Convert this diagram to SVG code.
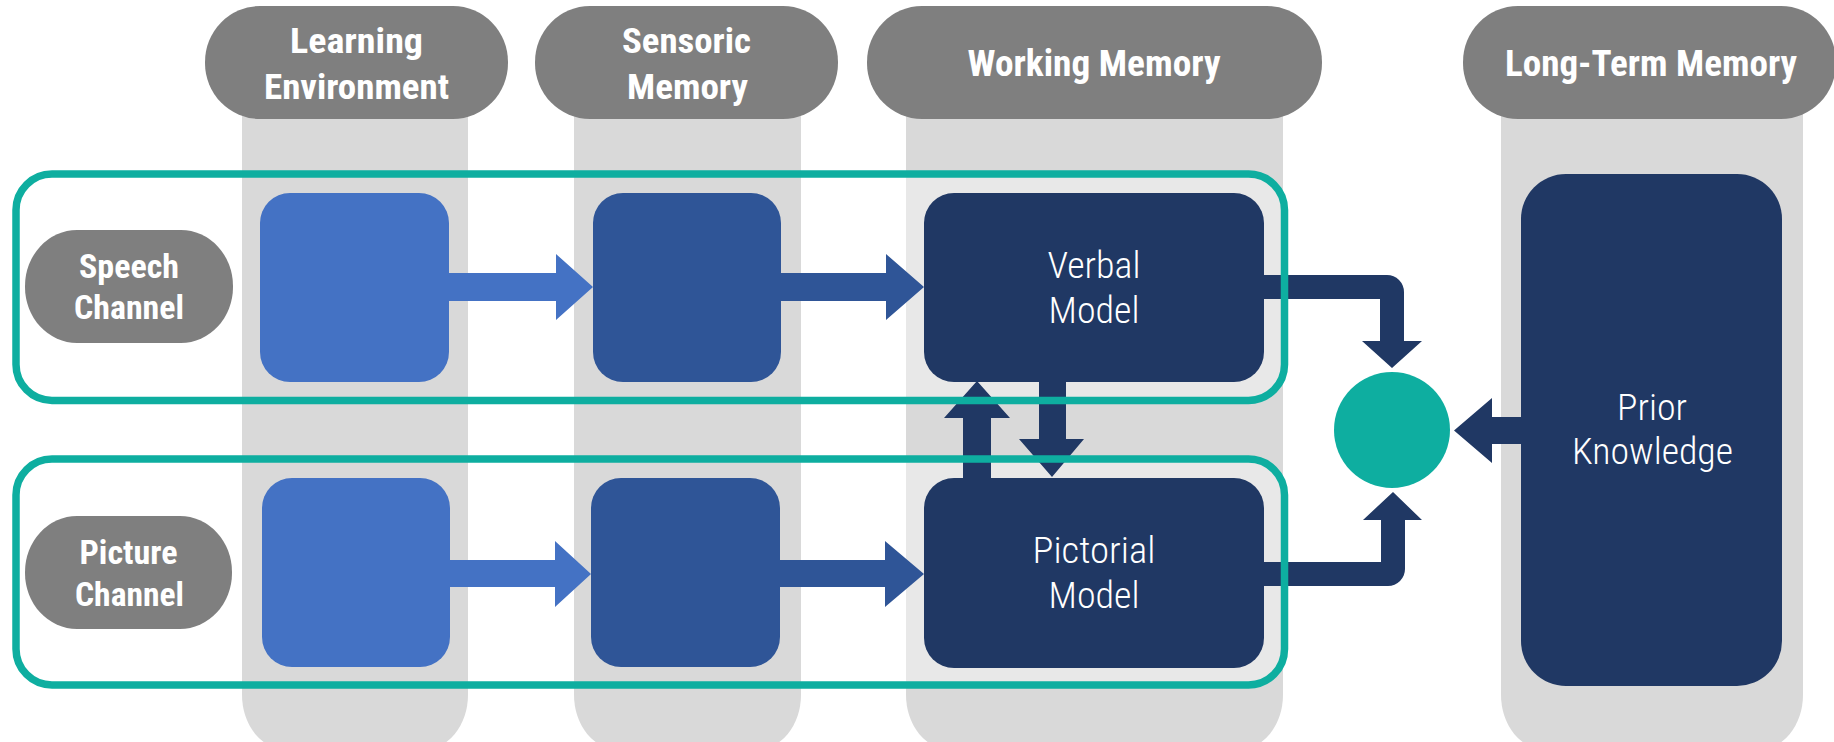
<svg xmlns="http://www.w3.org/2000/svg" width="1834" height="742" viewBox="0 0 1834 742">
<style>
.col{fill:#d9d9d9}
.hdr{fill:#7f7f7f}
.b1{fill:#4472c4}
.b2{fill:#2f5597}
.b3{fill:#203864}
.teal{fill:none;stroke:#0eaea0;stroke-width:7.5}
.tb{font-family:"Roboto Condensed",Roboto,"Liberation Sans",sans-serif;font-weight:700;fill:#fff;text-anchor:middle}
.tr{font-family:"Roboto Condensed",Roboto,"Liberation Sans",sans-serif;font-weight:300;fill:#fff;text-anchor:middle}
</style>
<defs>
<clipPath id="wmclip"><rect x="906" y="0" width="377" height="742"/></clipPath>
</defs>
<rect width="1834" height="742" fill="#fff"/>
<g id="columns">
<rect class="col" x="242" y="60" width="226" height="690" rx="45" ry="55"/>
<rect class="col" x="574" y="60" width="227" height="690" rx="45" ry="55"/>
<rect class="col" x="906" y="60" width="377" height="690" rx="45" ry="55"/>
<rect class="col" x="1501" y="60" width="302" height="690" rx="45" ry="55"/>
<g clip-path="url(#wmclip)" fill="#e8e8e8">
<rect x="16" y="174" width="1268.5" height="226.5" rx="36"/>
<rect x="16" y="459" width="1268.5" height="226" rx="36"/>
</g>
</g>
<g id="headers">
<g id="h-learning"><rect class="hdr" x="205" y="6" width="303" height="113" rx="55" ry="56"/>
<text class="tb" x="356.5" y="53" font-size="35" textLength="133" lengthAdjust="spacingAndGlyphs">Learning</text>
<text class="tb" x="356.5" y="99" font-size="35" textLength="185" lengthAdjust="spacingAndGlyphs">Environment</text></g>
<g id="h-sensoric"><rect class="hdr" x="535" y="6" width="303" height="113" rx="55" ry="56"/>
<text class="tb" x="686.5" y="53" font-size="35" textLength="129" lengthAdjust="spacingAndGlyphs">Sensoric</text>
<text class="tb" x="687.5" y="99" font-size="35" textLength="121" lengthAdjust="spacingAndGlyphs">Memory</text></g>
<g id="h-working"><rect class="hdr" x="867" y="6" width="455" height="113" rx="55" ry="56"/>
<text class="tb" x="1094" y="76" font-size="37" textLength="253" lengthAdjust="spacingAndGlyphs">Working Memory</text></g>
<g id="h-longterm"><rect class="hdr" x="1463" y="6" width="373" height="113" rx="55" ry="56"/>
<text class="tb" x="1651" y="76" font-size="37" textLength="292" lengthAdjust="spacingAndGlyphs">Long-Term Memory</text></g>
</g>
<g id="speech-channel"><rect class="hdr" x="25" y="230" width="208" height="113" rx="52" ry="56"/>
<text class="tb" x="129" y="278" font-size="33" textLength="100" lengthAdjust="spacingAndGlyphs">Speech</text>
<text class="tb" x="129" y="319" font-size="33" textLength="110" lengthAdjust="spacingAndGlyphs">Channel</text></g>
<g id="picture-channel"><rect class="hdr" x="25" y="516" width="207" height="113" rx="52" ry="56"/>
<text class="tb" x="128.5" y="564" font-size="33" textLength="98" lengthAdjust="spacingAndGlyphs">Picture</text>
<text class="tb" x="129.5" y="606" font-size="33" textLength="109" lengthAdjust="spacingAndGlyphs">Channel</text></g>
<g id="le-speech"><rect class="b1" x="260" y="193" width="189" height="189" rx="30"/></g>
<g id="sm-speech"><rect class="b2" x="593" y="193" width="188" height="189" rx="30"/></g>
<g id="verbal-model"><rect class="b3" x="924" y="193" width="340" height="189" rx="30"/>
<text class="tr" x="1094" y="278" font-size="36" textLength="93" lengthAdjust="spacingAndGlyphs">Verbal</text>
<text class="tr" x="1094" y="323" font-size="36" textLength="91" lengthAdjust="spacingAndGlyphs">Model</text></g>
<g id="le-picture"><rect class="b1" x="262" y="478" width="188" height="189" rx="30"/></g>
<g id="sm-picture"><rect class="b2" x="591" y="478" width="189" height="189" rx="30"/></g>
<g id="pictorial-model"><rect class="b3" x="924" y="478" width="340" height="190" rx="30"/>
<text class="tr" x="1094" y="563" font-size="36" textLength="123" lengthAdjust="spacingAndGlyphs">Pictorial</text>
<text class="tr" x="1094" y="608" font-size="36" textLength="91" lengthAdjust="spacingAndGlyphs">Model</text></g>
<g id="prior-knowledge"><rect class="b3" x="1521" y="174" width="261" height="512" rx="45"/>
<text class="tr" x="1652" y="420" font-size="36" textLength="70" lengthAdjust="spacingAndGlyphs">Prior</text>
<text class="tr" x="1652.5" y="464" font-size="36" textLength="161" lengthAdjust="spacingAndGlyphs">Knowledge</text></g>
<g id="integration"><circle cx="1392" cy="430" r="58" fill="#0eaea0"/></g>
<g id="connectors">
<path class="b1" d="M449,273 H556 V254 L593,287 L556,320 V301 H449 Z"/>
<path class="b2" d="M781,273 H886 V254 L924,287 L886,320 V301 H781 Z"/>
<path class="b1" d="M450,560 H555 V541 L591,574 L555,607 V587 H450 Z"/>
<path class="b2" d="M780,560 H885 V541 L924,574 L885,607 V587 H780 Z"/>
<path class="b3" d="M1264,275 H1387 A17,17 0 0 1 1404,292 V341 H1422 L1392,368 L1362,341 H1380 V299 H1264 Z"/>
<path class="b3" d="M1264,562 H1381 V520 H1363 L1393,492 L1422,520 H1405 V569 A17,17 0 0 1 1388,586 H1264 Z"/>
<path class="b3" d="M1521,417 H1492 V398 L1454,430.5 L1492,463 V444 H1521 Z"/>
<path class="b3" d="M963,478 V418 H944 L977,381 L1010,418 H991 V478 Z"/>
<path class="b3" d="M1039,382 V439 H1019 L1052,477 L1084,439 H1066 V382 Z"/>
</g>
<g id="channel-frames">
<rect class="teal" x="16" y="174" width="1268.5" height="226.5" rx="36"/>
<rect class="teal" x="16" y="459" width="1268.5" height="226" rx="36"/>
</g>
</svg>
